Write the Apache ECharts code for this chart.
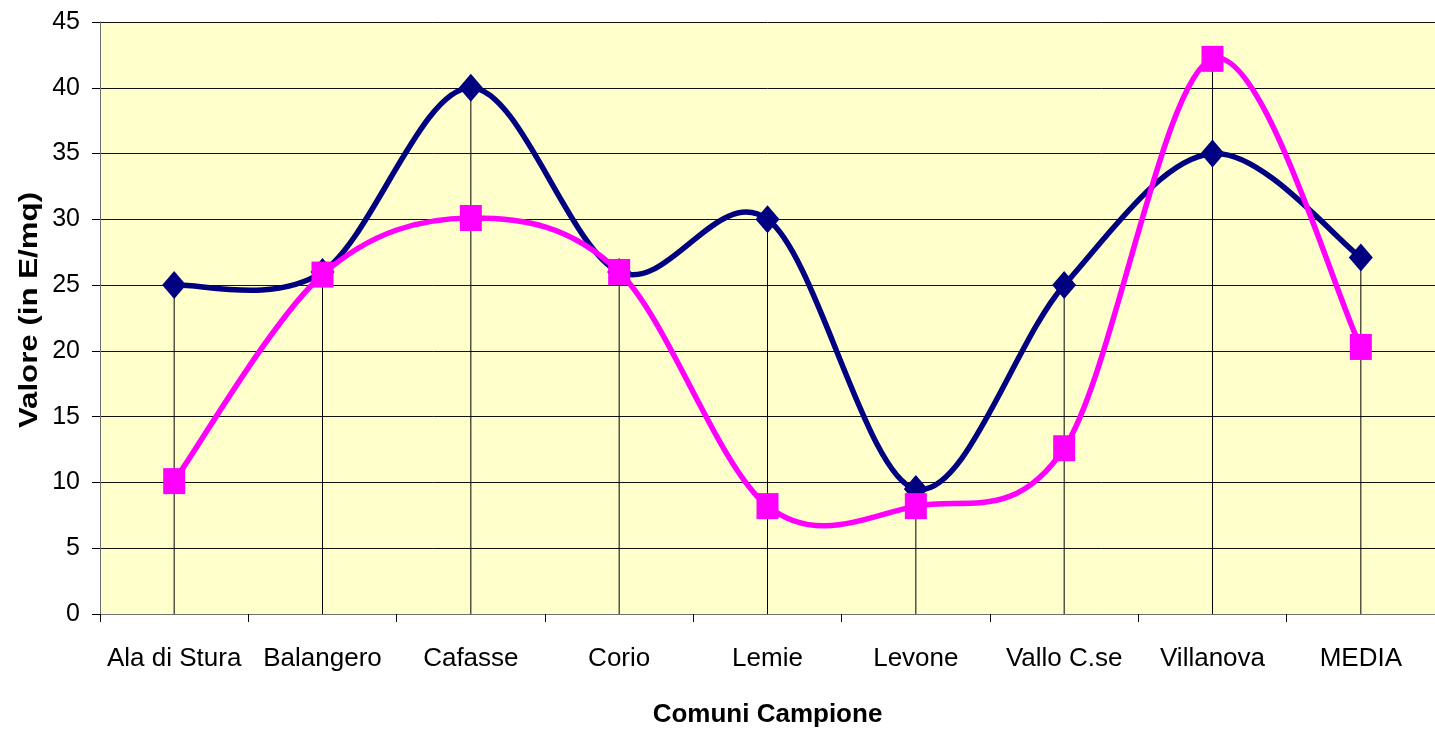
<!DOCTYPE html>
<html>
<head>
<meta charset="utf-8">
<script src="https://cdn.jsdelivr.net/npm/echarts@6/dist/echarts.min.js"></script>
<style>
  html, body { margin: 0; padding: 0; background: #fff; }
  #main { width: 1435px; height: 733px; }
</style>
</head>
<body>
<div id="main"></div>
<script>
const categories = ['Ala di Stura', 'Balangero', 'Cafasse', 'Corio', 'Lemie', 'Levone', 'Vallo C.se', 'Villanova', 'MEDIA']
const blueValues = [25, 26, 40, 26, 30, 9.5, 25, 35, 27.1]
const pinkValues = [10.1, 25.8, 30.1, 26, 8.2, 8.2, 12.6, 42.2, 20.3]
const yTicks = { min: 0, max: 45, interval: 5 }

// drop lines go from the higher point of each category down to zero
const dropValues = categories.map((c, i) => Math.max(blueValues[i], pinkValues[i]))

const FONT = '"Liberation Sans", Arial, sans-serif'

// spreadsheet-style smoothed line: cardinal bezier between neighbours, in pixel space
const smoothCurve = (values, color, z) => ({
  type: 'custom',
  data: values.map((v, i) => [i, v]),
  encode: { x: 0, y: 1 },
  silent: true,
  z: z,
  renderItem: (params, api) => {
    const i = params.dataIndex
    if (i >= values.length - 1) return null
    const at = k => {
      const j = Math.max(0, Math.min(values.length - 1, k))
      return api.coord([j, values[j]])
    }
    const p0 = at(i - 1), p1 = at(i), p2 = at(i + 1), p3 = at(i + 2)
    const t = 1 / 6
    return {
      type: 'bezierCurve',
      shape: {
        x1: p1[0], y1: p1[1],
        x2: p2[0], y2: p2[1],
        cpx1: p1[0] + (p2[0] - p0[0]) * t,
        cpy1: p1[1] + (p2[1] - p0[1]) * t,
        cpx2: p2[0] - (p3[0] - p1[0]) * t,
        cpy2: p2[1] - (p3[1] - p1[1]) * t
      },
      style: { stroke: color, lineWidth: 5.5, fill: null, lineCap: 'round' }
    }
  }
})

const chart = echarts.init(document.getElementById('main'))
chart.setOption({
  animation: false,
  backgroundColor: '#fff',
  grid: {
    left: 100,
    right: 0,
    top: 22,
    bottom: 119,
    show: true,
    backgroundColor: '#FFFFCC',
    borderWidth: 0,
    containLabel: false,
    outerBoundsMode: 'none'
  },
  graphic: [{
    type: 'text',
    x: 30,
    y: 310,
    rotation: Math.PI / 2,
    scaleX: 1.25,
    style: {
      text: 'Valore (in E/mq)',
      font: 'bold 25px ' + FONT,
      fill: '#000',
      align: 'center',
      verticalAlign: 'middle'
    }
  }],
  xAxis: {
    type: 'category',
    data: categories,
    boundaryGap: true,
    name: 'Comuni Campione',
    nameLocation: 'middle',
    nameGap: 88,
    nameTextStyle: { fontFamily: FONT, fontSize: 26, fontWeight: 'bold', color: '#000' },
    axisLine: { lineStyle: { color: '#707070', width: 1 } },
    axisTick: { show: true, length: 8, inside: false, lineStyle: { color: '#000' } },
    axisLabel: { fontFamily: FONT, fontSize: 26, color: '#000', margin: 32, interval: 0 },
    splitLine: { show: false }
  },
  yAxis: {
    type: 'value',
    min: yTicks.min,
    max: yTicks.max,
    interval: yTicks.interval,
    axisLine: { show: true, lineStyle: { color: '#707070', width: 1 } },
    axisTick: { show: true, length: 8, lineStyle: { color: '#000' } },
    axisLabel: { fontFamily: FONT, fontSize: 25, color: '#000', margin: 20 },
    splitLine: { show: true, lineStyle: { color: '#111', width: 1 } }
  },
  series: [
    {
      type: 'bar',
      data: dropValues,
      barWidth: 1,
      itemStyle: { color: '#000' },
      silent: true,
      z: 1
    },
    smoothCurve(blueValues, '#000080', 3),
    {
      type: 'scatter',
      data: blueValues,
      symbol: 'diamond',
      symbolSize: [24, 28],
      itemStyle: { color: '#000080', opacity: 1 },
      z: 4
    },
    smoothCurve(pinkValues, '#FF00FF', 5),
    {
      type: 'scatter',
      data: pinkValues,
      symbol: 'rect',
      symbolSize: [22, 26],
      itemStyle: { color: '#FF00FF', opacity: 1 },
      z: 6
    }
  ]
})
</script>
</body>
</html>
